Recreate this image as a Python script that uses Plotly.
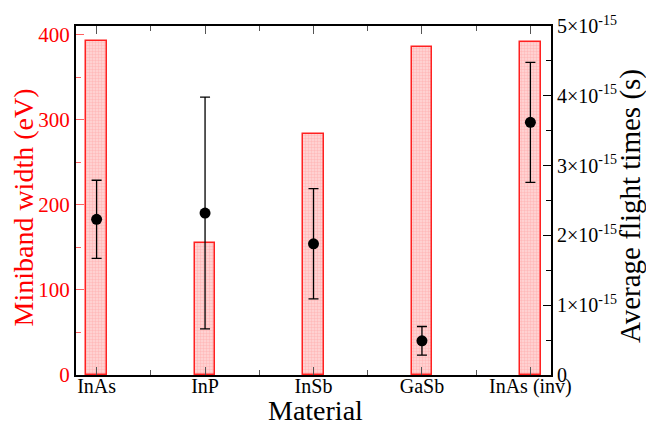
import plotly.graph_objects as go

materials = ["InAs", "InP", "InSb", "GaSb", "InAs (inv)"]
positions = [0, 1, 2, 3, 4]
miniband_width = [392, 155, 283, 385, 391]          # eV
flight_time = [2.23e-15, 2.32e-15, 1.88e-15, 0.49e-15, 3.62e-15]   # s
flight_err = [0.56e-15, 1.66e-15, 0.79e-15, 0.205e-15, 0.86e-15]   # s

right_tickvals = [0, 1e-15, 2e-15, 3e-15, 4e-15, 5e-15]
right_ticktext = ["0", "1×10<sup>-15</sup>", "2×10<sup>-15</sup>", "3×10<sup>-15</sup>",
                  "4×10<sup>-15</sup>", "5×10<sup>-15</sup>"]

FONT = "Liberation Serif"

fig = go.Figure()
fig.add_trace(go.Bar(
    x=positions, y=miniband_width, width=0.19,
    marker=dict(color="#ffd0d0", line=dict(color="#ff2020", width=1.5),
                pattern=dict(shape=".", fgcolor="#ff9c9c", bgcolor="#ffd8d8", size=3, solidity=0.5)),
    yaxis="y", showlegend=False,
))
fig.add_trace(go.Scatter(
    x=positions, y=flight_time, mode="markers", yaxis="y2",
    marker=dict(color="black", size=11),
    error_y=dict(type="data", array=flight_err, color="black", thickness=1.3, width=5),
    showlegend=False,
))

fig.update_layout(
    width=646, height=425,
    margin=dict(l=76, r=95, t=26, b=50),
    paper_bgcolor="white", plot_bgcolor="white",
    font=dict(family=FONT, size=18, color="black"),
    bargap=0,
    xaxis=dict(
        range=[-0.19, 4.19], tickmode="array", tickvals=positions, ticktext=materials,
        ticks="inside", ticklen=8, tickwidth=1, tickcolor="#555",
        showline=True, linecolor="black", linewidth=2, mirror="ticks",
        showgrid=False, zeroline=False, automargin=False, ticklabelstandoff=-8,
        minor=dict(tickmode="linear", tick0=0.5, dtick=1, ticks="inside", ticklen=5, tickcolor="#555"),
        tickfont=dict(size=20, color="black", family=FONT),
    ),
    yaxis=dict(
        range=[0, 410], tickmode="linear", tick0=0, dtick=100,
        ticks="inside", ticklen=8, tickcolor="#ff6060",
        showline=True, linecolor="black", linewidth=2,
        showgrid=False, zeroline=False, automargin=False,
        minor=dict(tickmode="linear", tick0=50, dtick=100, ticks="inside", ticklen=5, tickcolor="#ff6060"),
        tickfont=dict(size=21, color="red", family=FONT),
    ),
    yaxis2=dict(
        overlaying="y", side="right", range=[0, 5e-15],
        tickmode="array", tickvals=right_tickvals, ticktext=right_ticktext,
        ticks="inside", ticklen=8, tickcolor="black",
        showline=True, linecolor="black", linewidth=2,
        showgrid=False, zeroline=False, automargin=False,
        minor=dict(tickmode="array", tickvals=[0.5e-15, 1.5e-15, 2.5e-15, 3.5e-15, 4.5e-15],
                   ticks="inside", ticklen=5, tickcolor="black"),
        tickfont=dict(size=20, color="black", family=FONT),
    ),
    annotations=[
        dict(text="Material", xref="paper", yref="paper", x=0.5, y=0, xshift=2, yshift=-35,
             xanchor="center", yanchor="middle", showarrow=False,
             font=dict(size=28, color="black", family=FONT)),
        dict(text="Miniband width (eV)", xref="paper", yref="paper", x=0, y=0.48, xshift=-53,
             xanchor="center", yanchor="middle", textangle=-90, showarrow=False,
             font=dict(size=28, color="red", family=FONT)),
        dict(text="Average flight times (s)", xref="paper", yref="paper", x=1, y=0.484, xshift=79,
             xanchor="center", yanchor="middle", textangle=-90, showarrow=False,
             font=dict(size=29, color="black", family=FONT)),
    ],
)

fig.write_html("out.html")
